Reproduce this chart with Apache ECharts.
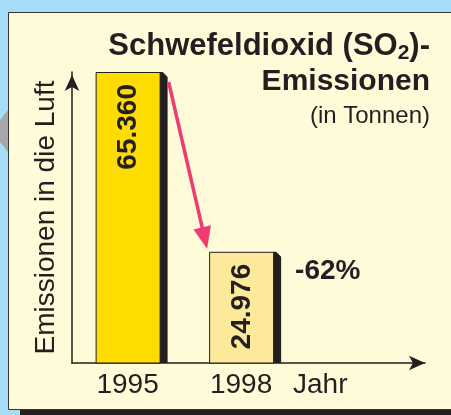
<!doctype html>
<html lang="de">
<head>
    <meta charset="UTF-8">
    <title>Schwefeldioxid-Emissionen</title>
    <style>
        html, body { margin: 0; padding: 0; }
        #main { width: 451px; height: 415px; }
    </style>
    <script src="https://cdn.jsdelivr.net/npm/echarts@6/dist/echarts.min.js"></script>
</head>
<body>
    <div id="main"></div>
    <script>
        var years = [1995, 1998];
        var emissions = [65360, 24976];
        var barColors = ['#ffdc00', '#fde99a'];
        var xLabel = 'Jahr';
        var yLabel = 'Emissionen in die Luft';

        // 65360 -> "65.360"
        function fmt(v) {
            return String(v).replace(/\B(?=(\d{3})+(?!\d))/g, '.');
        }

        window.onload = function () {
            var chart = echarts.init(document.getElementById('main'));
            var font = '"Liberation Sans", Arial, sans-serif';
            var dark = '#231f20';
            var barW = 64, side = 8;

            // bar face + dark 3d side + rotated value label
            function renderBar(params, api) {
                var top = api.coord([api.value(0), api.value(1)]);
                var bottom = api.coord([api.value(0), 0]);
                var l = top[0] - barW / 2, r = top[0] + barW / 2;
                return {
                    type: 'group',
                    children: [
                        {
                            type: 'polygon',
                            shape: { points: [[r, top[1]], [r + 3, top[1]], [r + side, top[1] + 5], [r + side, bottom[1]], [r, bottom[1]]] },
                            style: { fill: dark }
                        },
                        {
                            type: 'rect',
                            shape: { x: l + 0.5, y: top[1] + 0.5, width: barW, height: bottom[1] - top[1] - 0.5 },
                            style: { fill: barColors[params.dataIndex], stroke: dark, lineWidth: 1 }
                        },
                        {
                            type: 'text',
                            x: top[0] + 1,
                            y: top[1] + 12,
                            rotation: Math.PI / 2,
                            style: {
                                text: fmt(api.value(1)),
                                font: 'bold 28px ' + font,
                                fill: dark,
                                align: 'right',
                                verticalAlign: 'middle'
                            }
                        }
                    ]
                };
            }

            var option = {
                backgroundColor: '#a8ddf8',
                textStyle: { fontFamily: font },
                animation: false,
                title: {
                    text: '{h|Schwefeldioxid (SO}{s|2}{h|)-}\n{b|Emissionen}\n{r|(in Tonnen)}',
                    left: 430,
                    top: 29,
                    padding: 0,
                    textAlign: 'right',
                    textStyle: {
                        rich: {
                            h: { fontFamily: font, fontSize: 31, fontWeight: 'bold', lineHeight: 35, color: dark },
                            b: { fontFamily: font, fontSize: 30, fontWeight: 'bold', lineHeight: 35, color: dark },
                            s: { fontFamily: font, fontSize: 21, fontWeight: 'bold', lineHeight: 20, verticalAlign: 'bottom', color: dark },
                            r: { fontFamily: font, fontSize: 24, fontWeight: 'normal', lineHeight: 35, color: dark }
                        }
                    }
                },
                grid: { left: 72, right: 26, top: 72, bottom: 52 },
                xAxis: {
                    type: 'value',
                    min: 1993.53,
                    max: 2002.86,
                    splitLine: { show: false },
                    axisTick: { show: false },
                    axisLine: {
                        show: true,
                        symbol: ['none', 'arrow'],
                        symbolSize: [11, 16],
                        lineStyle: { color: dark, width: 1.5 }
                    },
                    axisLabel: {
                        customValues: years,
                        formatter: function (v) { return String(v); },
                        fontSize: 28,
                        color: dark,
                        margin: 8
                    },
                    name: xLabel,
                    nameLocation: 'end',
                    nameGap: -132,
                    nameTextStyle: {
                        fontSize: 28,
                        color: dark,
                        verticalAlign: 'top',
                        padding: [8, 0, 0, 0]
                    }
                },
                yAxis: {
                    type: 'value',
                    min: 0,
                    max: 65360,
                    splitLine: { show: false },
                    axisTick: { show: false },
                    axisLabel: { show: false },
                    axisLine: {
                        show: true,
                        symbol: ['none', 'arrow'],
                        symbolSize: [11, 16],
                        symbolOffset: [0, -3],
                        lineStyle: { color: dark, width: 1.5 }
                    },
                    name: yLabel,
                    nameLocation: 'middle',
                    nameGap: 12,
                    nameTextStyle: { fontSize: 28, color: dark }
                },
                graphic: [
                    // gray shape at the left edge
                    { type: 'polygon', z: -10, shape: { points: [[0, 120], [8, 110], [8, 152], [0, 142]] }, style: { fill: '#a7a7a9' } },
                    // panel shadow
                    { type: 'rect', z: -10, shape: { x: 20, y: 410, width: 431, height: 5 }, style: { fill: dark } },
                    // cream panel
                    { type: 'rect', z: -9, shape: { x: 8.5, y: 12.5, width: 450, height: 397 }, style: { fill: '#fffad8', stroke: '#333', lineWidth: 1 } }
                ],
                series: [
                    {
                        type: 'custom',
                        renderItem: renderBar,
                        clip: false,
                        encode: { x: 0, y: 1 },
                        data: years.map(function (y, i) { return [y, emissions[i]]; }),
                        emphasis: { disabled: true }
                    }
                ]
            };
            chart.setOption(option);

            // arrow between the bars and the percentage change
            var p1 = chart.convertToPixel({ gridIndex: 0 }, [years[0], emissions[0]]);
            var p2 = chart.convertToPixel({ gridIndex: 0 }, [years[1], emissions[1]]);
            var start = [p1[0] + 41, p1[1] + 10];
            var end = [p2[0] - 34, p2[1] - 3];
            var dx = end[0] - start[0], dy = end[1] - start[1];
            var len = Math.sqrt(dx * dx + dy * dy);
            var ux = dx / len, uy = dy / len;
            var headLen = 22, headHalf = 9;
            var base = [end[0] - ux * headLen, end[1] - uy * headLen];
            var pink = '#ee3b72';
            var change = Math.round((emissions[1] - emissions[0]) / emissions[0] * 100);

            chart.setOption({
                graphic: option.graphic.concat([
                    { type: 'line', z: 10, shape: { x1: start[0], y1: start[1], x2: base[0] + ux * 2, y2: base[1] + uy * 2 }, style: { stroke: pink, lineWidth: 3.5 } },
                    { type: 'polygon', z: 10, shape: { points: [end, [base[0] - uy * headHalf, base[1] + ux * headHalf], [base[0] + uy * headHalf, base[1] - ux * headHalf]] }, style: { fill: pink } },
                    { type: 'text', z: 10, x: p2[0] + 54, y: p2[1] + 19, style: { text: change + '%', font: 'bold 28px ' + font, fill: dark, verticalAlign: 'middle' } }
                ])
            });
        };
    </script>
</body>
</html>
